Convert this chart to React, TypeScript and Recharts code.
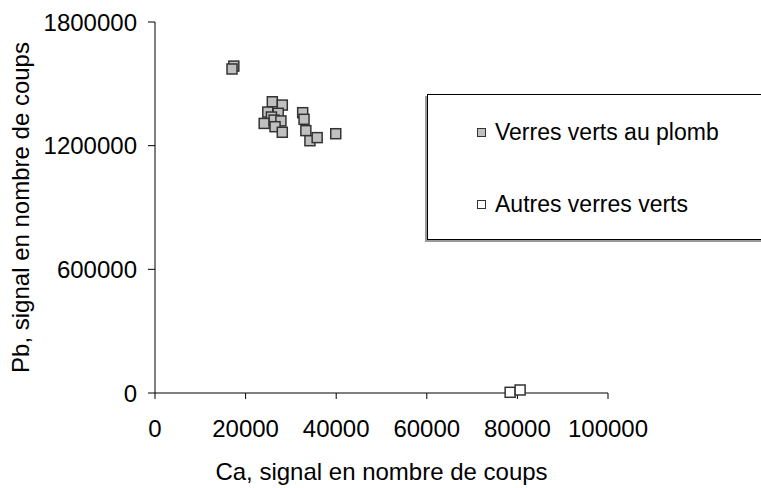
import React from 'react';
import { ScatterChart, Scatter, XAxis, YAxis } from 'recharts';

// Verres verts au plomb
const leadCa = [17400, 17000, 25900, 28100, 24900, 27200, 25700, 24100, 26300, 27800, 26500, 28100, 32600, 32900, 33300, 34200, 35800, 39900];
const leadPb = [1586000, 1572000, 1413000, 1397000, 1363000, 1357000, 1339000, 1308000, 1324000, 1320000, 1292000, 1265000, 1360000, 1328000, 1273000, 1224000, 1239000, 1258000];

// Autres verres verts
const otherCa = [78400, 80600];
const otherPb = [3400, 14600];

const xTicks = [0, 20000, 40000, 60000, 80000, 100000];
const yTicks = [0, 600000, 1200000, 1800000];

const legendItems = [
  { name: 'Verres verts au plomb', fill: '#c0c0c0' },
  { name: 'Autres verres verts', fill: '#fff' },
];

const leadData = leadCa.map((ca, i) => ({ ca, pb: leadPb[i] }));
const otherData = otherCa.map((ca, i) => ({ ca, pb: otherPb[i] }));

const FONT = '"Liberation Sans", Arial, sans-serif';

const squareShape = (fill: string) => (props: any) => {
  const { cx, cy } = props;
  return (
    <rect x={cx - 5} y={cy - 5} width={10} height={10} fill={fill} stroke="#333" strokeWidth={1.5} />
  );
};

// boxed legend on the right, with a grey drop shadow bottom-left
const LegendBox = () => (
  <div
    style={{
      position: 'absolute',
      left: 427,
      top: 94,
      width: 340,
      height: 146,
      border: '1px solid #000',
      boxShadow: '-2px 2px 0 #999',
      background: '#fff',
      fontFamily: FONT,
      fontSize: 23,
      color: '#000',
      boxSizing: 'border-box',
    }}
  >
    {legendItems.map((item, i) => (
      <div key={item.name} style={{ position: 'absolute', left: 49, top: 24 + i * 72, display: 'flex', alignItems: 'center' }}>
        <span
          style={{
            display: 'inline-block',
            width: 7,
            height: 7,
            background: item.fill,
            border: '1px solid #333',
            marginRight: 9,
          }}
        />
        <span style={{ lineHeight: '26px' }}>{item.name}</span>
      </div>
    ))}
  </div>
);

export default function App() {
  return (
    <div style={{ position: 'absolute', left: 0, top: 0, width: 761, height: 488, background: '#fff', overflow: 'hidden' }}>
      <ScatterChart width={761} height={488} margin={{ top: 22, right: 153, bottom: 0, left: 0 }}>
        <XAxis
          type="number"
          dataKey="ca"
          domain={[0, 100000]}
          ticks={xTicks}
          interval={0}
          height={95}
          stroke="#000"
          tickSize={6}
          tickMargin={21}
          tick={{ fill: '#000', fontSize: 24, fontFamily: FONT }}
          label={{ value: 'Ca, signal en nombre de coups', position: 'insideBottom', offset: 8, fill: '#000', fontSize: 24, fontFamily: FONT }}
        />
        <YAxis
          type="number"
          dataKey="pb"
          domain={[0, 1800000]}
          ticks={yTicks}
          interval={0}
          width={155}
          stroke="#000"
          tickSize={7}
          tickMargin={11}
          tick={{ fill: '#000', fontSize: 24, fontFamily: FONT }}
          label={{ value: 'Pb, signal en nombre de coups', angle: -90, position: 'insideLeft', offset: 20, style: { textAnchor: 'middle' }, fill: '#000', fontSize: 24, fontFamily: FONT }}
        />
        <Scatter name="Autres verres verts" data={otherData} shape={squareShape('#fff')} isAnimationActive={false} />
        <Scatter name="Verres verts au plomb" data={leadData} shape={squareShape('#c0c0c0')} isAnimationActive={false} />
      </ScatterChart>
      <LegendBox />
    </div>
  );
}
